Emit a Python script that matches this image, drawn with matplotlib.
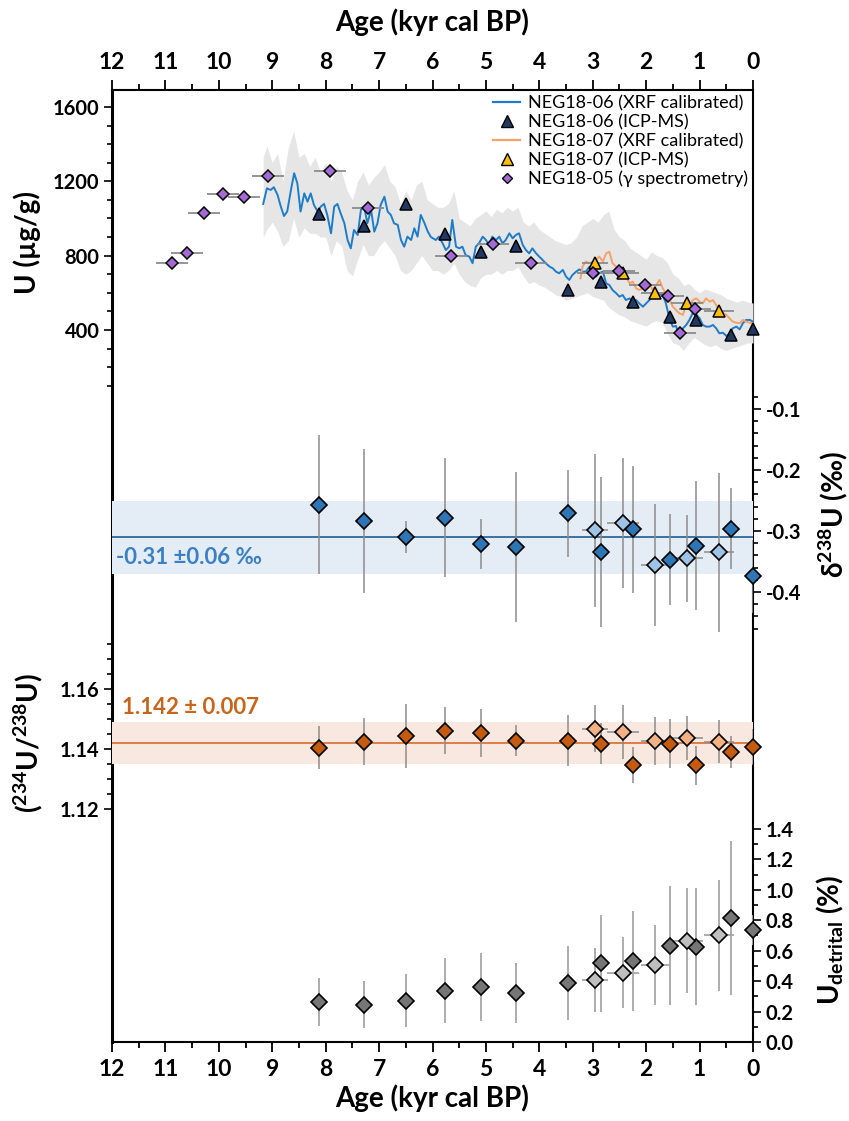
import matplotlib
matplotlib.use("Agg")
import matplotlib.pyplot as plt
from matplotlib.lines import Line2D

plt.rcParams['font.family'] = ['Lato', 'DejaVu Sans']
plt.rcParams['mathtext.fontset'] = 'custom'
plt.rcParams['mathtext.rm'] = 'Lato'
plt.rcParams['mathtext.bf'] = 'Lato:bold'
plt.rcParams['mathtext.it'] = 'Lato:italic'

# ---------------- data ----------------
# NEG18-06 XRF calibrated U (age kyr, U ug/g)
xrf06 = [(9.17, 1078), (9.10, 1162), (9.03, 1153), (8.97, 1168), (8.90, 1126), (8.84, 1064),
         (8.78, 1013), (8.72, 1037), (8.65, 1153), (8.59, 1243), (8.53, 1189), (8.47, 1037),
         (8.40, 1135), (8.34, 1090), (8.28, 1135), (8.22, 1073), (8.15, 1037), (8.09, 1064),
         (8.03, 1078), (7.97, 1019), (7.90, 920), (7.84, 1064), (7.78, 1078), (7.72, 1028),
         (7.65, 974), (7.59, 884), (7.53, 839), (7.47, 938), (7.40, 911), (7.34, 1046),
         (7.28, 1064), (7.22, 974), (7.15, 1046), (7.09, 929), (7.03, 974), (6.97, 1073),
         (6.90, 1117), (6.84, 1037), (6.78, 1019), (6.72, 974), (6.65, 965), (6.59, 884),
         (6.53, 848), (6.47, 902), (6.40, 884), (6.34, 947), (6.28, 902), (6.22, 1019),
         (6.15, 975), (6.09, 930), (6.03, 900), (5.94, 884), (5.88, 902), (5.81, 866),
         (5.75, 830), (5.69, 848), (5.63, 992), (5.56, 848), (5.50, 839), (5.44, 848),
         (5.38, 803), (5.31, 794), (5.25, 759), (5.19, 848), (5.13, 866), (5.06, 902),
         (5.00, 884), (4.94, 857), (4.88, 902), (4.81, 884), (4.75, 902), (4.69, 866),
         (4.63, 884), (4.56, 920), (4.50, 893), (4.44, 911), (4.38, 920), (4.31, 857),
         (4.25, 830), (4.19, 812), (4.13, 839), (4.06, 812), (4.00, 794), (3.94, 777),
         (3.88, 759), (3.81, 741), (3.75, 732), (3.69, 714), (3.63, 705), (3.56, 723),
         (3.50, 687), (3.44, 669), (3.38, 696), (3.31, 714), (3.25, 726), (3.19, 714),
         (3.13, 714), (3.06, 741), (3.00, 723), (2.94, 687), (2.88, 705), (2.81, 714),
         (2.75, 651), (2.69, 642), (2.63, 615), (2.56, 597), (2.50, 579), (2.44, 588),
         (2.38, 561), (2.31, 570), (2.25, 552), (2.19, 561), (2.13, 543), (2.06, 525),
         (2.00, 543), (1.94, 561), (1.88, 579), (1.81, 597), (1.75, 597), (1.69, 588),
         (1.63, 543), (1.56, 454), (1.50, 418), (1.44, 421), (1.38, 364), (1.31, 409),
         (1.25, 427), (1.19, 454), (1.13, 490), (1.06, 481), (1.00, 463), (0.94, 427),
         (0.88, 418), (0.81, 418), (0.75, 427), (0.69, 409), (0.63, 382), (0.56, 385),
         (0.50, 368), (0.44, 378), (0.38, 409), (0.31, 418), (0.25, 403), (0.19, 436),
         (0.13, 454), (0.06, 454), (0.00, 445)]

# NEG18-07 XRF calibrated U
xrf07 = [(3.23, 678), (3.19, 741), (3.13, 768), (3.06, 759), (3.00, 768), (2.94, 777),
         (2.88, 795), (2.81, 768), (2.75, 812), (2.69, 821), (2.63, 759), (2.56, 741),
         (2.50, 723), (2.44, 714), (2.38, 687), (2.31, 651), (2.25, 660), (2.19, 624),
         (2.13, 615), (2.06, 624), (2.00, 624), (1.94, 651), (1.88, 615), (1.81, 642),
         (1.75, 669), (1.69, 624), (1.63, 597), (1.56, 561), (1.50, 525), (1.44, 507),
         (1.38, 490), (1.31, 481), (1.25, 543), (1.19, 525), (1.13, 561), (1.06, 570),
         (1.00, 552), (0.94, 543), (0.88, 570), (0.81, 552), (0.75, 561), (0.69, 534),
         (0.63, 507), (0.56, 490), (0.50, 481), (0.44, 463), (0.38, 445), (0.31, 439),
         (0.25, 436), (0.19, 454), (0.13, 445), (0.06, 439), (0.00, 436)]

# grey uncertainty envelope (age, low, high)
envelope = [(9.17, 900, 1330), (9.1, 940, 1390), (9.0, 980, 1300), (8.9, 930, 1350),
            (8.8, 850, 1200), (8.7, 880, 1380), (8.6, 1000, 1470), (8.5, 900, 1330),
            (8.4, 950, 1350), (8.3, 920, 1280), (8.2, 920, 1330), (8.1, 900, 1250),
            (8.0, 900, 1300), (7.9, 800, 1200), (7.8, 880, 1280), (7.7, 850, 1250),
            (7.6, 720, 1150), (7.5, 690, 1100), (7.4, 780, 1200), (7.3, 860, 1250),
            (7.2, 800, 1180), (7.1, 800, 1220), (7.0, 850, 1250), (6.9, 880, 1290),
            (6.8, 840, 1200), (6.7, 800, 1170), (6.6, 720, 1080), (6.5, 700, 1150),
            (6.4, 720, 1100), (6.3, 760, 1180), (6.2, 800, 1200), (6.1, 760, 1100),
            (6.0, 720, 1080), (5.9, 720, 1060), (5.8, 700, 1060), (5.7, 720, 1080),
            (5.6, 760, 1150), (5.5, 700, 1000), (5.4, 660, 980), (5.3, 640, 960),
            (5.2, 630, 1000), (5.1, 680, 1020), (5.0, 700, 1040), (4.9, 700, 1010),
            (4.8, 720, 1050), (4.7, 700, 1030), (4.6, 720, 1060), (4.5, 720, 1040),
            (4.4, 740, 1060), (4.3, 690, 980), (4.2, 650, 960), (4.1, 660, 980),
            (4.0, 640, 940), (3.9, 630, 920), (3.8, 610, 900), (3.7, 590, 880),
            (3.6, 580, 870), (3.5, 560, 860), (3.4, 570, 870), (3.3, 580, 900),
            (3.2, 590, 960), (3.1, 600, 980), (3.0, 580, 1000), (2.9, 570, 980),
            (2.8, 560, 1020), (2.7, 520, 1040), (2.6, 500, 940), (2.5, 480, 900),
            (2.4, 470, 880), (2.3, 450, 840), (2.2, 440, 820), (2.1, 430, 800),
            (2.0, 420, 780), (1.9, 440, 820), (1.8, 450, 800), (1.7, 440, 790),
            (1.6, 380, 760), (1.5, 330, 700), (1.4, 320, 680), (1.3, 290, 640),
            (1.2, 330, 650), (1.1, 360, 620), (1.0, 340, 600), (0.9, 320, 620),
            (0.8, 310, 610), (0.7, 320, 600), (0.6, 300, 590), (0.5, 290, 570),
            (0.4, 300, 560), (0.3, 310, 550), (0.2, 320, 560), (0.1, 330, 550),
            (0.0, 330, 545)]

# NEG18-05 gamma spectrometry
gamma_age = [10.875, 10.59, 10.27, 9.92, 9.53, 9.075, 7.92, 7.21, 5.66, 4.86, 4.15,
             2.99, 2.51, 2.03, 1.59, 1.09, 1.36]
gamma_u = [762, 813, 1031, 1134, 1116, 1230, 1257, 1058, 800, 863, 762,
           709, 719, 642, 583, 511, 382]
gamma_age_err = 0.3

# discrete samples: NEG18-06 (dark) and NEG18-07 (light)
age06 = [8.13, 7.29, 6.50, 5.76, 5.09, 4.43, 3.46, 2.84, 2.24, 1.55, 1.06, 0.41, 0.0]
age07 = [2.96, 2.43, 1.83, 1.24, 0.64]
age07_err = [0.25, 0.30, 0.27, 0.30, 0.28]

icp06_u = [1022, 961, 1078, 917, 822, 852, 615, 657, 552, 468, 454, 373, 404]
icp07_u = [762, 709, 601, 547, 504]

d238_06 = [-0.257, -0.283, -0.310, -0.278, -0.321, -0.326, -0.271, -0.334, -0.297,
           -0.347, -0.324, -0.296, -0.374]
d238_06_err = [0.114, 0.118, 0.026, 0.097, 0.041, 0.123, 0.071, 0.123, 0.104,
               0.075, 0.106, 0.066, 0.06]
d238_07 = [-0.299, -0.287, -0.356, -0.345, -0.335]
d238_07_err = [0.125, 0.107, 0.100, 0.071, 0.130]
d238_mean, d238_sd = -0.31, 0.06

ratio06 = [1.1404, 1.1424, 1.1442, 1.1461, 1.1453, 1.1428, 1.1428, 1.1417, 1.1345,
           1.1418, 1.1345, 1.1391, 1.1408]
ratio06_err = [0.0072, 0.0079, 0.0107, 0.0078, 0.0079, 0.0051, 0.0086, 0.0068, 0.0060,
               0.0082, 0.0066, 0.0053, 0.0060]
ratio07 = [1.1468, 1.1457, 1.1427, 1.1437, 1.1424]
ratio07_err = [0.0079, 0.0090, 0.0080, 0.0074, 0.0071]
ratio_mean, ratio_sd = 1.142, 0.007

det06 = [0.263, 0.246, 0.272, 0.338, 0.360, 0.320, 0.390, 0.518, 0.531, 0.634, 0.627,
         0.816, 0.737]
det06_err = [0.160, 0.152, 0.172, 0.212, 0.223, 0.198, 0.243, 0.319, 0.327, 0.390,
             0.385, 0.507, 0.10]
det07 = [0.410, 0.456, 0.504, 0.667, 0.702]
det07_err = [0.21, 0.235, 0.263, 0.345, 0.365]

# ---------------- figure ----------------
W, H = 849, 1121
fig = plt.figure(figsize=(W / 100, H / 100), dpi=100)
rect = [112 / W, 1 - 1042 / H, 641 / W, 952 / H]

BLUE = '#1f7cc8'
ORANGE = '#f4a26a'
NAVY = '#1f3864'
YELLOW = '#ffc000'
PURPLE = '#a66ad8'
EBAR = '#8c8c8c'
YTICK = dict(fontsize=14.5, fontweight='bold')

frame = fig.add_axes(rect, label='frame')
frame.set_xlim(12, 0)
frame.set_ylim(0, 1)
frame.set_yticks([])
frame.set_xticks(list(range(12, -1, -1)), [str(v) for v in range(12, -1, -1)],
                 fontsize=16.5, fontweight='bold')
frame.set_xticks([v + 0.5 for v in range(12)], minor=True)
frame.tick_params(axis='x', which='both', direction='out', top=True, bottom=True,
                  labeltop=True, labelbottom=True, width=1.3)
frame.tick_params(axis='x', which='major', length=7, pad=5)
frame.tick_params(axis='x', which='minor', length=4)
for s in frame.spines.values():
    s.set_linewidth(1.5)
frame.spines['left'].set_linewidth(2.2)


def panel(name, ylim, side):
    ax = fig.add_axes(rect, label=name, sharex=frame)
    ax.set_facecolor('none')
    for s in ax.spines.values():
        s.set_visible(False)
    ax.xaxis.set_visible(False)
    ax.set_ylim(*ylim)
    if side == 'right':
        ax.yaxis.tick_right()
    ax.tick_params(axis='y', which='both', direction='out', width=1.2)
    ax.tick_params(axis='y', which='major', length=6, pad=3)
    ax.tick_params(axis='y', which='minor', length=3.5)
    return ax


# ---- U panel ----
ax_u = panel('u', (-3431, 1691), 'left')
ax_u.set_yticks([400, 800, 1200, 1600], ['400', '800', '1200', '1600'], **YTICK)
ax_u.set_yticks([v for v in range(100, 1700, 100)], minor=True)

env_age = [e[0] for e in envelope]
ax_u.fill_between(env_age, [e[1] for e in envelope], [e[2] for e in envelope],
                  color='#e6e6e6', lw=0, zorder=1)
ax_u.plot([p[0] for p in xrf06], [p[1] for p in xrf06], color=BLUE, lw=1.4, zorder=2)
ax_u.plot([p[0] for p in xrf07], [p[1] for p in xrf07], color=ORANGE, lw=1.4, zorder=2)
ax_u.errorbar(gamma_age, gamma_u, xerr=gamma_age_err, fmt='none', ecolor=EBAR,
              elinewidth=1.3, zorder=3)
ax_u.errorbar(age07, icp07_u, xerr=age07_err, fmt='none', ecolor=EBAR,
              elinewidth=1.3, zorder=3)
ax_u.plot(age06, icp06_u, ls='none', marker='^', ms=9, mfc=NAVY, mec='black', mew=1.1,
          zorder=4, clip_on=False)
ax_u.plot(age07, icp07_u, ls='none', marker='^', ms=9, mfc=YELLOW, mec='black', mew=1.1,
          zorder=4, clip_on=False)
ax_u.plot(gamma_age, gamma_u, ls='none', marker='D', ms=6, mfc=PURPLE, mec='black',
          mew=1.1, zorder=5, clip_on=False)

handles = [Line2D([], [], color=BLUE, lw=1.6),
           Line2D([], [], ls='none', marker='^', ms=8, mfc=NAVY, mec='black', mew=1),
           Line2D([], [], color=ORANGE, lw=1.6),
           Line2D([], [], ls='none', marker='^', ms=8, mfc=YELLOW, mec='black', mew=1),
           Line2D([], [], ls='none', marker='D', ms=5.5, mfc=PURPLE, mec='black', mew=1)]
labels = ['NEG18-06 (XRF calibrated)', 'NEG18-06 (ICP-MS)', 'NEG18-07 (XRF calibrated)',
          'NEG18-07 (ICP-MS)', 'NEG18-05 (\u03b3 spectrometry)']
leg = ax_u.legend(handles, labels, loc='upper right', bbox_to_anchor=(1.0, 1.0),
                  frameon=False, fontsize=13, handlelength=1.5, handletextpad=0.4,
                  labelspacing=0.15, borderaxespad=0.1, borderpad=0.2)
leg.set_zorder(10)

# ---- delta238U panel ----
ax_d = panel('d', (-1.1377, 0.4230), 'right')
ax_d.set_yticks([-0.1, -0.2, -0.3, -0.4], ['-0.1', '-0.2', '-0.3', '-0.4'], **YTICK)
ax_d.set_yticks([-0.46, -0.44, -0.42, -0.38, -0.36, -0.34, -0.32, -0.28, -0.26, -0.24,
                 -0.22, -0.18, -0.16, -0.14, -0.12, -0.08], minor=True)
ax_d.axhspan(d238_mean - d238_sd, d238_mean + d238_sd, color='#e4ecf6', lw=0, zorder=0)
ax_d.axhline(d238_mean, color='#2f6694', lw=1.3, zorder=1)
ax_d.errorbar(age06, d238_06, yerr=d238_06_err, fmt='none', ecolor=EBAR, elinewidth=1.1,
              zorder=2)
ax_d.errorbar(age07, d238_07, xerr=age07_err, yerr=d238_07_err, fmt='none', ecolor=EBAR,
              elinewidth=1.1, zorder=2)
ax_d.plot(age06, d238_06, ls='none', marker='D', ms=8, mfc='#2e75b6', mec='black',
          mew=1.2, zorder=3, clip_on=False)
ax_d.plot(age07, d238_07, ls='none', marker='D', ms=8, mfc='#9dc3e6', mec='black',
          mew=1.2, zorder=3, clip_on=False)
ax_d.text(11.92, -0.343, '-0.31 \u00b10.06 \u2030', color='#3a80c4', fontsize=16,
          fontweight='bold', va='center', ha='left')

# ---- 234U/238U panel ----
ax_r = panel('r', (1.0423, 1.3597), 'left')
ax_r.set_yticks([1.12, 1.14, 1.16], ['1.12', '1.14', '1.16'], **YTICK)
ax_r.set_yticks([1.125, 1.13, 1.135, 1.145, 1.15, 1.155, 1.165, 1.17, 1.175], minor=True)
ax_r.axhspan(ratio_mean - ratio_sd, ratio_mean + ratio_sd, color='#f8e8df', lw=0, zorder=0)
ax_r.axhline(ratio_mean, color='#d9773a', lw=1.3, zorder=1)
ax_r.errorbar(age06, ratio06, yerr=ratio06_err, fmt='none', ecolor=EBAR, elinewidth=1.1,
              zorder=2)
ax_r.errorbar(age07, ratio07, xerr=age07_err, yerr=ratio07_err, fmt='none', ecolor=EBAR,
              elinewidth=1.1, zorder=2)
ax_r.plot(age06, ratio06, ls='none', marker='D', ms=8, mfc='#c55a11', mec='black',
          mew=1.2, zorder=3, clip_on=False)
ax_r.plot(age07, ratio07, ls='none', marker='D', ms=8, mfc='#f4b183', mec='black',
          mew=1.2, zorder=3, clip_on=False)
ax_r.text(11.81, 1.1537, '1.142 \u00b1 0.007', color='#c8651b', fontsize=16,
          fontweight='bold', va='center', ha='left')

# ---- U detrital panel ----
ax_t = panel('t', (0, 6.257), 'right')
ax_t.set_yticks([0, 0.2, 0.4, 0.6, 0.8, 1.0, 1.2, 1.4],
                ['0.0', '0.2', '0.4', '0.6', '0.8', '1.0', '1.2', '1.4'], **YTICK)
ax_t.set_yticks([0.1, 0.3, 0.5, 0.7, 0.9, 1.1, 1.3], minor=True)
ax_t.errorbar(age06, det06, yerr=det06_err, fmt='none', ecolor='#a6a6a6', elinewidth=1.3,
              zorder=2)
ax_t.errorbar(age07, det07, xerr=age07_err, yerr=det07_err, fmt='none', ecolor='#a6a6a6',
              elinewidth=1.3, zorder=2)
ax_t.plot(age06, det06, ls='none', marker='D', ms=8, mfc='#767676', mec='black',
          mew=1.2, zorder=3, clip_on=False)
ax_t.plot(age07, det07, ls='none', marker='D', ms=8, mfc='#bfbfbf', mec='black',
          mew=1.2, zorder=3, clip_on=False)

# ---- axis titles ----
lab = dict(fontsize=20, fontweight='bold', ha='center', va='center')
fig.text(432 / W, 1 - 22 / H, 'Age (kyr cal BP)', **lab)
fig.text(432 / W, 1 - 1098 / H, 'Age (kyr cal BP)', **lab)
fig.text(27 / W, 1 - 243 / H, 'U (\u00b5g/g)', rotation=90, **lab)
fig.text(28 / W, 1 - 743 / H, r'($^{\mathbf{234}}$U/$^{\mathbf{238}}$U)', rotation=90, **lab)
fig.text(833 / W, 1 - 515 / H, '\u03b4$^{\\mathbf{238}}$U (\u2030)', rotation=90, **lab)
fig.text(830 / W, 1 - 940 / H, r'U$_{\mathbf{detrital}}$ (%)', rotation=90, **lab)

fig.savefig('out.png', dpi=100)
